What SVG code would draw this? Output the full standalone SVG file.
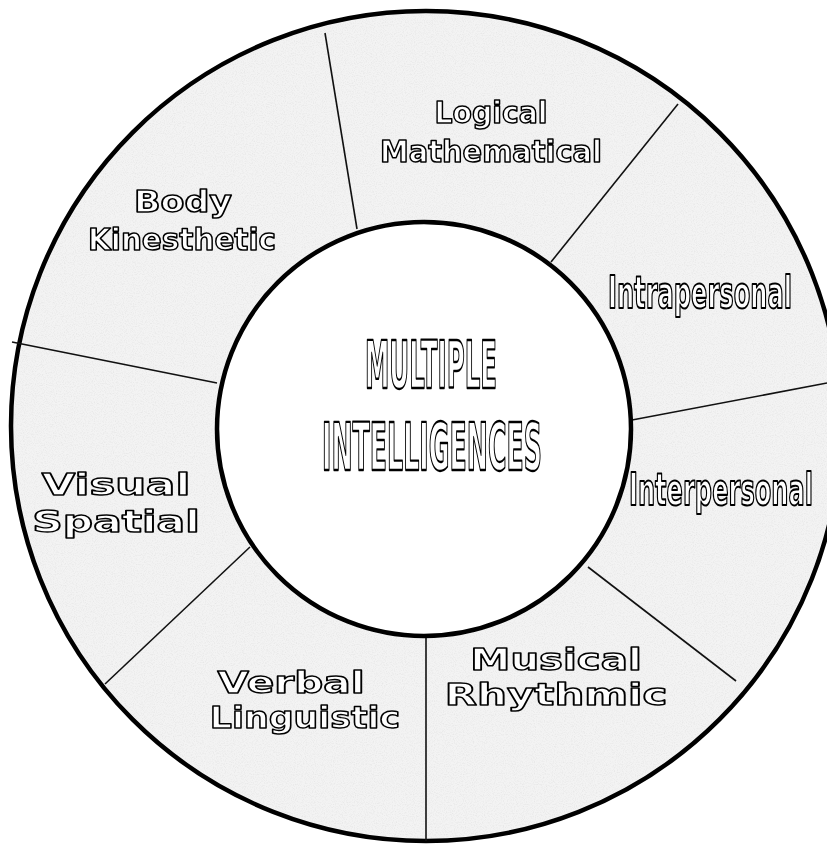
<svg xmlns="http://www.w3.org/2000/svg" width="827" height="844" viewBox="0 0 827 844">
  <defs>
    <style>
      .ring { fill: #f3f3f3; stroke: #000; stroke-width: 4.5; }
      .hub { fill: #ffffff; stroke: #000; stroke-width: 4.5; }
      .spoke { stroke: #111; stroke-width: 1.6; fill: none; }
      .lbl { fill: #ffffff; stroke: #000; stroke-width: 1.6; stroke-linejoin: round; text-anchor: middle; font-family: "DejaVu Sans", "Liberation Sans", sans-serif; font-weight: bold; opacity: 0.995; }
      .verd { font-size: 31px; }
      .wide { font-size: 30px; stroke-width: 1.4; }
      .cond { font-size: 45px; stroke-width: 2.1; }
      .title { font-size: 66px; stroke-width: 2.3; }
    </style>
    <filter id="speckle" x="0" y="0" width="100%" height="100%">
      <feTurbulence type="fractalNoise" baseFrequency="0.9" numOctaves="2" seed="3" result="n"/>
      <feColorMatrix in="n" type="matrix" values="0 0 0 0 0.55  0 0 0 0 0.55  0 0 0 0 0.55  0 0 0 -2.2 1.25" result="dots"/>
      <feComposite in="dots" in2="SourceGraphic" operator="in"/>
    </filter>
  </defs>

  <rect width="827" height="844" fill="#ffffff"/>

  <g id="ring">
    <circle class="ring" cx="426" cy="426" r="415"/>
    <circle cx="426" cy="426" r="412" fill="#ffffff" filter="url(#speckle)" opacity="0.25"/>
  </g>

  <g id="connectors">
    <line class="spoke" x1="325" y1="33" x2="357" y2="229"/>
    <line class="spoke" x1="551" y1="262" x2="678" y2="104"/>
    <line class="spoke" x1="632" y1="420" x2="827" y2="383"/>
    <line class="spoke" x1="588" y1="567" x2="736" y2="681"/>
    <line class="spoke" x1="426" y1="636" x2="426" y2="841"/>
    <line class="spoke" x1="250" y1="547" x2="105" y2="684"/>
    <line class="spoke" x1="12" y1="342" x2="217" y2="383"/>
  </g>

  <g id="center">
    <circle class="hub" cx="424" cy="429" r="207"/>
    <text class="lbl title" transform="translate(431 388) scale(0.36 1)" textLength="367" lengthAdjust="spacingAndGlyphs">MULTIPLE</text>
    <text class="lbl title" transform="translate(432 470) scale(0.36 1)" textLength="611" lengthAdjust="spacingAndGlyphs">INTELLIGENCES</text>
  </g>

  <g id="logical-mathematical">
    <text class="lbl verd" x="491" y="123" textLength="113" lengthAdjust="spacingAndGlyphs">Logical</text>
    <text class="lbl verd" x="491" y="162" textLength="222" lengthAdjust="spacingAndGlyphs">Mathematical</text>
  </g>

  <g id="intrapersonal">
    <text class="lbl cond" transform="translate(700 308) scale(0.54 1)" textLength="341" lengthAdjust="spacingAndGlyphs">Intrapersonal</text>
  </g>

  <g id="interpersonal">
    <text class="lbl cond" transform="translate(721 505) scale(0.54 1)" textLength="341" lengthAdjust="spacingAndGlyphs">Interpersonal</text>
  </g>

  <g id="musical-rhythmic">
    <text class="lbl wide" transform="translate(556 670) scale(1.35 1)" textLength="127" lengthAdjust="spacingAndGlyphs">Musical</text>
    <text class="lbl wide" transform="translate(556 705) scale(1.35 1)" textLength="165" lengthAdjust="spacingAndGlyphs">Rhythmic</text>
  </g>

  <g id="verbal-linguistic">
    <text class="lbl wide" transform="translate(291 693) scale(1.35 1)" textLength="109" lengthAdjust="spacingAndGlyphs">Verbal</text>
    <text class="lbl wide" transform="translate(305 728) scale(1.35 1)" textLength="141" lengthAdjust="spacingAndGlyphs">Linguistic</text>
  </g>

  <g id="visual-spatial">
    <text class="lbl wide" transform="translate(116 495) scale(1.35 1)" textLength="110" lengthAdjust="spacingAndGlyphs">Visual</text>
    <text class="lbl wide" transform="translate(116 532) scale(1.35 1)" textLength="124" lengthAdjust="spacingAndGlyphs">Spatial</text>
  </g>

  <g id="body-kinesthetic">
    <text class="lbl verd" x="183" y="212" textLength="98" lengthAdjust="spacingAndGlyphs">Body</text>
    <text class="lbl verd" x="182" y="250" textLength="188" lengthAdjust="spacingAndGlyphs">Kinesthetic</text>
  </g>
</svg>
